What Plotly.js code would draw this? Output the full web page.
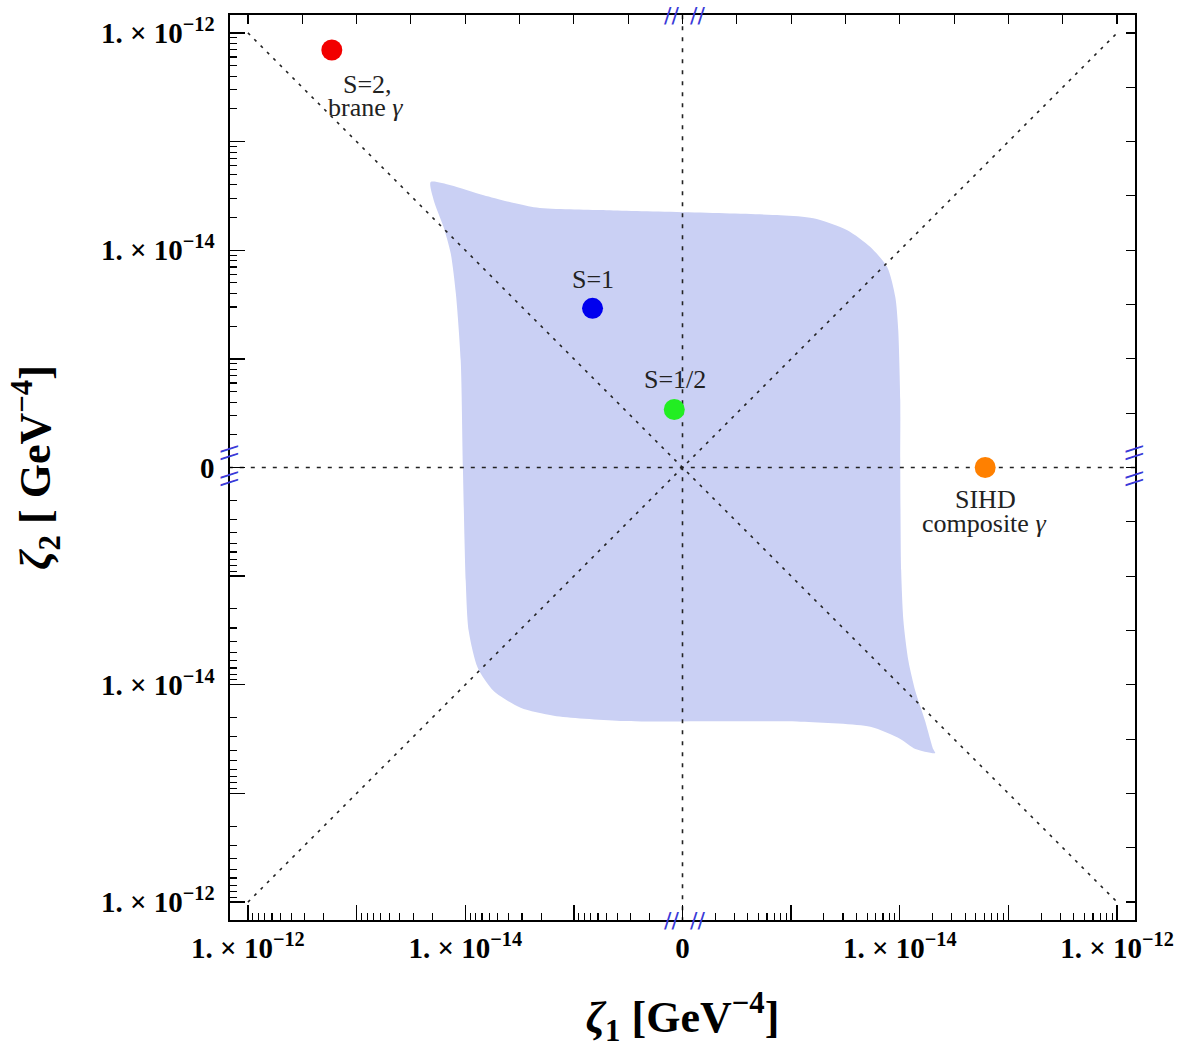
<!DOCTYPE html>
<html>
<head>
<meta charset="utf-8">
<script src="https://cdn.plot.ly/plotly-3.0.1.min.js"></script>
<style>html,body{margin:0;padding:0;background:#fff;}#chart{width:1188px;height:1048px;}</style>
</head>
<body>
<div id="chart"></div>
<script>
// ---- data (values in GeV^-4) ----
const regionZeta1 = [-2.08e-14,-1.36e-14,-6.76e-15,-2.34e-15,-5.68e-16,7.96e-16,1.60e-15,3.29e-15,5.36e-15,7.67e-15,9.10e-15,9.68e-15,1.01e-14,1.01e-14,1.03e-14,1.08e-14,1.20e-14,1.39e-14,1.71e-14,2.03e-14,2.12e-14,1.39e-14,1.01e-14,5.36e-15,1.22e-15,-3.72e-16,-1.53e-15,-3.09e-15,-5.47e-15,-7.67e-15,-9.29e-15,-9.89e-15,-1.05e-14,-1.10e-14,-1.22e-14,-1.36e-14,-1.58e-14,-1.95e-14,-2.08e-14];
const regionZeta2 = [4.24e-14,3.97e-14,3.21e-14,2.49e-14,2.34e-14,2.10e-14,1.97e-14,1.53e-14,1.07e-14,6.97e-15,3.69e-15,1.83e-15,4.15e-16,0,-8.89e-16,-2.57e-15,-6.01e-15,-1.14e-14,-2.15e-14,-3.89e-14,-4.24e-14,-3.89e-14,-3.15e-14,-2.44e-14,-2.19e-14,-2.15e-14,-1.93e-14,-1.63e-14,-1.14e-14,-6.97e-15,-3.18e-15,-1.10e-15,0,9.68e-16,4.02e-15,9.38e-15,1.63e-14,2.89e-14,4.24e-14];

const pointNames  = ["S=2", "S=1", "S=1/2", "SIHD"];
const pointZeta1  = [-1.69e-13, -6.73e-16, -1.19e-16, 6.11e-14];
const pointZeta2  = [6.97e-13, 2.92e-15, 3.42e-16, 0];
const pointColors = ["#f20000", "#0000ee", "#22ee22", "#ff8000"];

const guideZeta1 = [[-1e-12, 1e-12], [-1e-12, 1e-12], [-1.5e-12, 1.5e-12], [0, 0]];
const guideZeta2 = [[1e-12, -1e-12], [-1e-12, 1e-12], [0, 0], [-1.5e-12, 1.5e-12]];

const majorTickValues = [-1e-12,-1e-13,-1e-14,-1e-15,0,1e-15,1e-14,1e-13,1e-12];
const majorTickLabels = ["1. × 10<sup>−12</sup>","","1. × 10<sup>−14</sup>","","0","","1. × 10<sup>−14</sup>","","1. × 10<sup>−12</sup>"];
const minorMantissas = [2,3,4,5,6,7,8,9];
const decadeExponents = [-16,-15,-14,-13];
const halfStepExponents = [-15.5,-15,-14.5,-14,-13.5,-13,-12.5,-12];

// ---- symmetric log transform used for the axes ----
function tr(v){
  if (v === 0) return 0;
  const a = Math.log10(Math.abs(v)) + 16;
  return Math.sign(v) * Math.max(a, 0);
}
const trA = arr => arr.map(tr);

const majorVals = trA(majorTickValues);
const minorVals = [];
decadeExponents.forEach(e => minorMantissas.forEach(m => {
  minorVals.push(tr(m*Math.pow(10,e))); minorVals.push(tr(-m*Math.pow(10,e)));
}));
const halfVals = [0];
halfStepExponents.forEach(e => { halfVals.push(tr(Math.pow(10,e))); halfVals.push(tr(-Math.pow(10,e))); });

const serif = "Liberation Serif, Times New Roman, serif";
const R = [-4.165, 4.165];

const traces = [];
traces.push({
  x: trA(regionZeta1), y: trA(regionZeta2), type: "scatter", mode: "lines",
  fill: "toself", fillcolor: "#cad0f4", line: {width: 0, color: "#cad0f4", shape: "spline", smoothing: 0.7},
  hoverinfo: "skip", showlegend: false
});
guideZeta1.forEach((gx, i) => {
  traces.push({
    x: trA(gx), y: trA(guideZeta2[i]), type: "scatter", mode: "lines",
    line: {color: "#222", width: 1.6, dash: i < 2 ? "3px,6px" : "4px,7px"},
    hoverinfo: "skip", showlegend: false
  });
});
traces.push({
  x: trA(pointZeta1), y: trA(pointZeta2), type: "scatter", mode: "markers",
  marker: {size: 21, color: pointColors, line: {width: 0}},
  text: pointNames, showlegend: false, cliponaxis: false
});
// helper traces so the overlay axes get drawn
traces.push({x: [0], y: [0], xaxis: "x2", yaxis: "y2", mode: "markers", marker: {opacity: 0}, hoverinfo: "skip", showlegend: false});
traces.push({x: [0], y: [0], xaxis: "x3", yaxis: "y3", mode: "markers", marker: {opacity: 0}, hoverinfo: "skip", showlegend: false});

const tickFont = {family: serif, size: 29, color: "#000", weight: "bold"};
const baseAx = {range: R, showgrid: false, zeroline: false, fixedrange: true};

const labelFont = {family: serif, size: 26, color: "#222"};
const annotations = [
  {text: "S=2,", x: tr(pointZeta1[0]), y: tr(pointZeta2[0]), xshift: 36, yshift: -35},
  {text: "brane <i>γ</i>", x: tr(pointZeta1[0]), y: tr(pointZeta2[0]), xshift: 34, yshift: -58},
  {text: "S=1", x: tr(pointZeta1[1]), y: tr(pointZeta2[1]), xshift: 0, yshift: 29},
  {text: "S=1/2", x: tr(pointZeta1[2]), y: tr(pointZeta2[2]), xshift: 1, yshift: 30},
  {text: "SIHD", x: tr(pointZeta1[3]), y: tr(pointZeta2[3]), xshift: 0, yshift: -32},
  {text: "composite <i>γ</i>", x: tr(pointZeta1[3]), y: tr(pointZeta2[3]), xshift: -1, yshift: -56}
].map(a => Object.assign({xref: "x", yref: "y", showarrow: false, font: labelFont, xanchor: "center", yanchor: "middle"}, a));

const breakFont = {family: "DejaVu Sans", size: 22, color: "#3a3ad8"};
const breakOffsetsPos = [-0.1, 0.14];
breakOffsetsPos.forEach(o => {
  annotations.push({text: "//", xref: "x", yref: "paper", x: o, y: 1, showarrow: false, font: breakFont, xanchor: "center", yanchor: "middle"});
  annotations.push({text: "//", xref: "x", yref: "paper", x: o, y: 0, showarrow: false, font: breakFont, xanchor: "center", yanchor: "middle"});
  annotations.push({text: "\\\\", xref: "paper", yref: "y", x: 0, y: o, showarrow: false, font: breakFont, textangle: 90, xanchor: "center", yanchor: "middle"});
  annotations.push({text: "\\\\", xref: "paper", yref: "y", x: 1, y: o, showarrow: false, font: breakFont, textangle: 90, xanchor: "center", yanchor: "middle"});
});

const layout = {
  width: 1188, height: 1048,
  margin: {l: 230, r: 53, t: 15, b: 128, pad: 0},
  paper_bgcolor: "#fff", plot_bgcolor: "#fff",
  showlegend: false,
  xaxis: Object.assign({}, baseAx, {
    tickmode: "array", tickvals: majorVals, ticktext: majorTickLabels,
    ticks: "inside", ticklen: 15, tickwidth: 1.3, tickcolor: "#000",
    showline: true, linecolor: "#000", linewidth: 1.6, mirror: true,
    tickfont: tickFont, ticklabelstandoff: 2,
    title: {text: "<i>ζ</i><sub>1</sub> [GeV<sup>−4</sup>]", font: {family: serif, size: 44, color: "#000", weight: "bold"}, standoff: 40}
  }),
  yaxis: Object.assign({}, baseAx, {
    tickmode: "array", tickvals: majorVals, ticktext: majorTickLabels,
    ticks: "inside", ticklen: 15, tickwidth: 1.3, tickcolor: "#000",
    showline: true, linecolor: "#000", linewidth: 1.6, mirror: true,
    tickfont: tickFont, ticklabelstandoff: 8,
    title: {text: "<i>ζ</i><sub>2</sub> [ GeV<sup>−4</sup>]", font: {family: serif, size: 44, color: "#000", weight: "bold"}, standoff: 36}
  }),
  xaxis2: Object.assign({}, baseAx, {overlaying: "x", anchor: "y2", side: "bottom", tickmode: "array", tickvals: minorVals,
    ticks: "inside", ticklen: 7, tickwidth: 1.1, tickcolor: "#000", showticklabels: false, showline: false}),
  yaxis2: Object.assign({}, baseAx, {overlaying: "y", anchor: "x2", side: "left", tickmode: "array", tickvals: minorVals,
    ticks: "inside", ticklen: 7, tickwidth: 1.1, tickcolor: "#000", showticklabels: false, showline: false}),
  xaxis3: Object.assign({}, baseAx, {overlaying: "x", anchor: "y3", side: "top", tickmode: "array", tickvals: halfVals,
    ticks: "inside", ticklen: 9, tickwidth: 1.2, tickcolor: "#000", showticklabels: false, showline: false}),
  yaxis3: Object.assign({}, baseAx, {overlaying: "y", anchor: "x3", side: "right", tickmode: "array", tickvals: halfVals,
    ticks: "inside", ticklen: 9, tickwidth: 1.2, tickcolor: "#000", showticklabels: false, showline: false}),
  annotations: annotations
};

Plotly.newPlot("chart", traces, layout, {displayModeBar: false, staticPlot: true});
</script>
</body>
</html>
